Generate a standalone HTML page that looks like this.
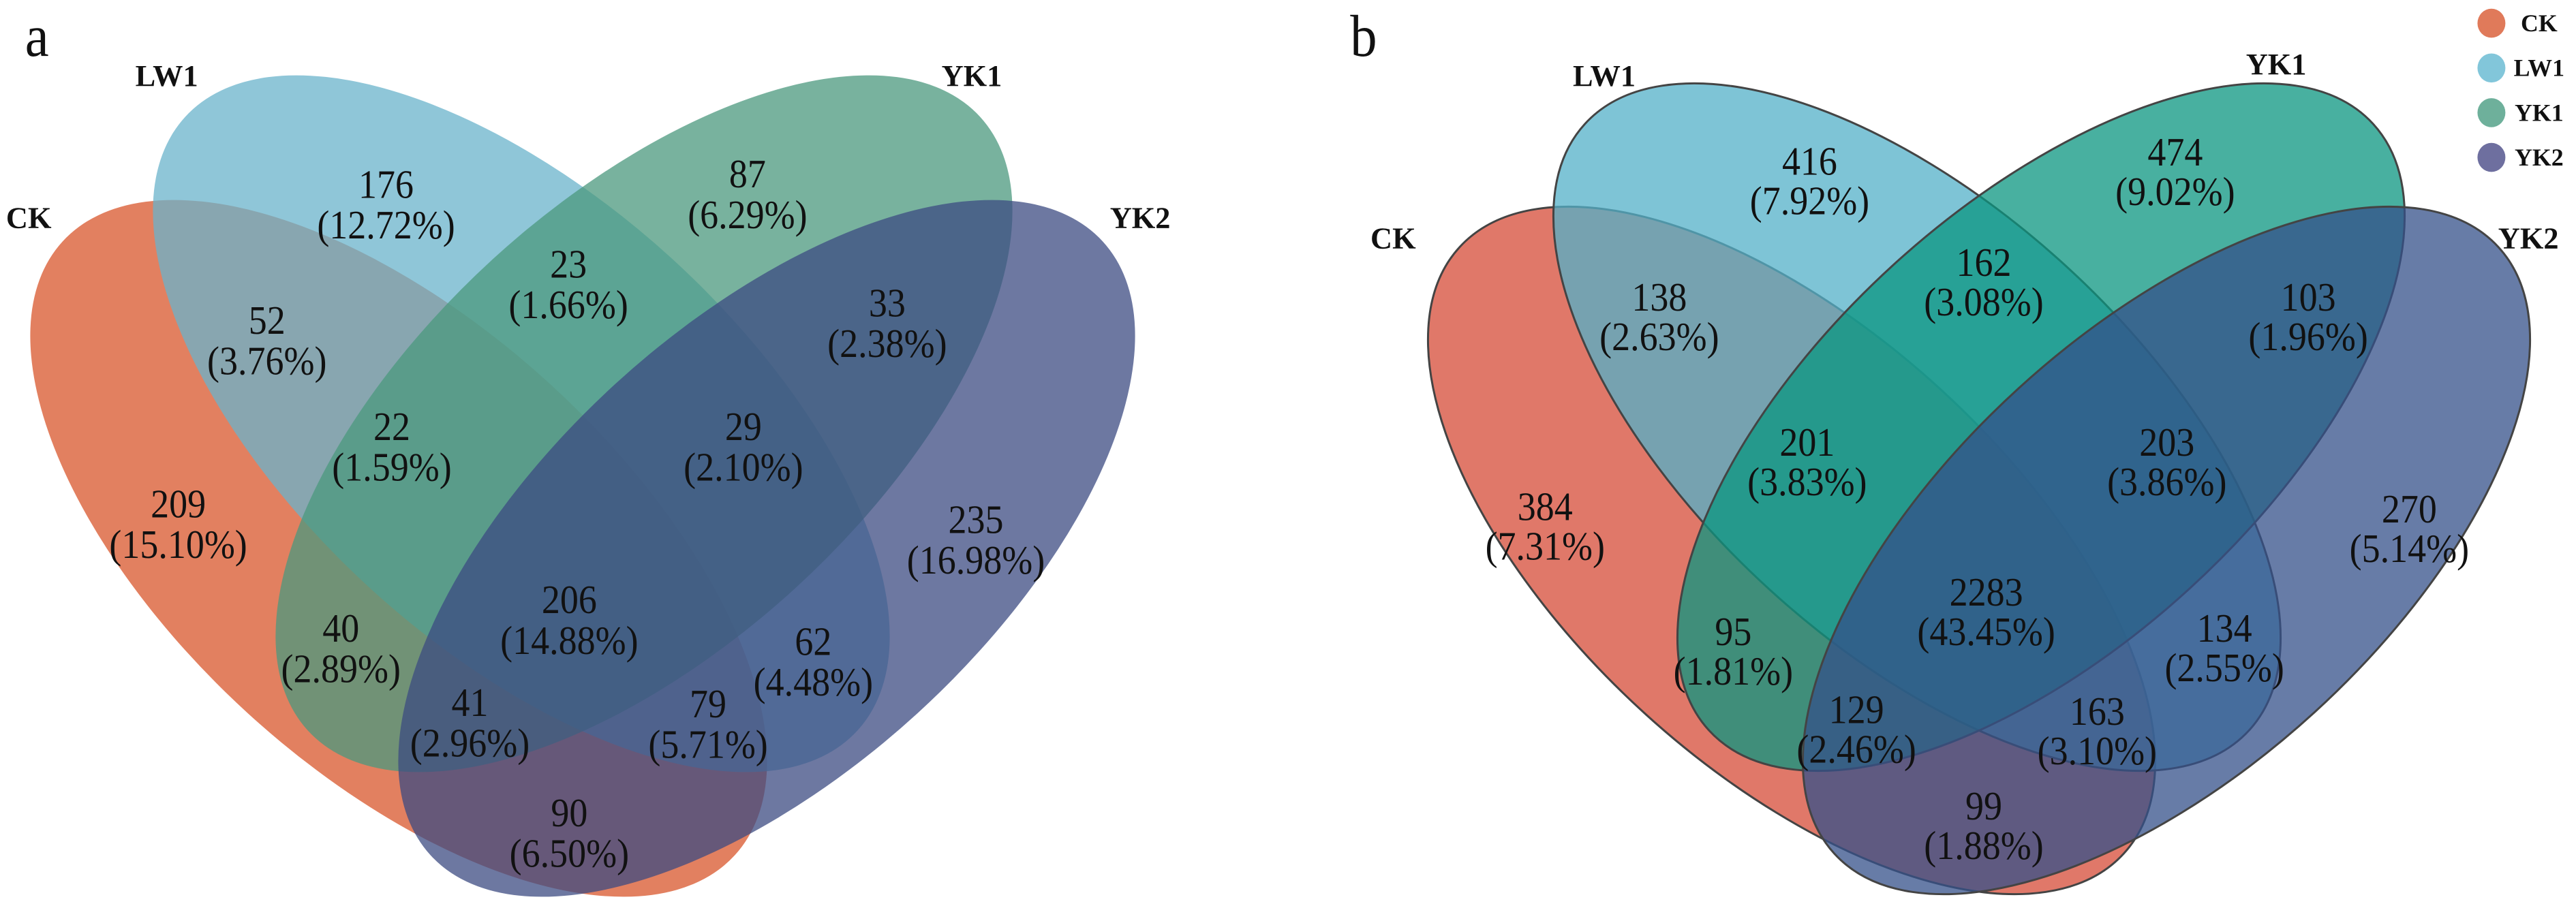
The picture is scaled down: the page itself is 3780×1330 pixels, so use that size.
<!DOCTYPE html>
<html><head><meta charset="utf-8"><style>
html,body{margin:0;padding:0;background:#fff;overflow:hidden;}
svg{display:block;}
text{font-family:"Liberation Serif",serif;fill:#111;}
</style></head><body>
<svg id="svg" width="3780" height="1330" viewBox="0 0 3780 1330" xmlns="http://www.w3.org/2000/svg">
<rect width="3780" height="1330" fill="#fff"/>
<g id="ea"></g>
<g id="pa" transform="scale(1.2054,0.8526)"></g>
<g id="eb" transform="translate(1890,0)"></g>
<g id="pb" transform="translate(1890,0) scale(1.2054,0.8526)"></g>
</svg>
<script>
const NS="http://www.w3.org/2000/svg";
const setNames=["CK","LW1","YK1","YK2"];
// panel a
const aCounts=["176","87","23","52","33","22","29","209","235","206","40","62","41","79","90"];
const aPcts=["12.72%","6.29%","1.66%","3.76%","2.38%","1.59%","2.10%","15.10%","16.98%","14.88%","2.89%","4.48%","2.96%","5.71%","6.50%"];
const aPos=[[470,318],[910,300],[692,455],[325,552],[1080,522],[477,735],[905,735],[217,868],[1188,895],[693,1033],[415,1082],[990,1105],[572,1210],[862,1212],[693,1400]];
// panel b
const bCounts=["416","474","162","138","103","201","203","384","270","2283","95","134","129","163","99"];
const bPcts=["7.92%","9.02%","3.08%","2.63%","1.96%","3.83%","3.86%","7.31%","5.14%","43.45%","1.81%","2.55%","2.46%","3.10%","1.88%"];
const bPos=[[635,278],[1080,262],[847,452],[452,512],[1242,512],[632,762],[1070,762],[313,873],[1365,877],[850,1020],[542,1088],[1140,1082],[692,1222],[985,1225],[847,1388]];

function el(p,tag,attrs){const e=document.createElementNS(NS,tag);for(const k in attrs)e.setAttribute(k,attrs[k]);p.appendChild(e);return e;}
function txt(p,x,y,s,size,bold,name,sx){
  const g=el(p,"g",{transform:`translate(${x},${y}) scale(${sx||0.708},1)`});
  const t=el(g,"text",{x:0,y:0,"text-anchor":"middle","dominant-baseline":"central","font-size":size,"font-weight":bold?"bold":"normal"});
  t.textContent=s;
  
  
  return t;
}
function panel(eg,g,cfg){
  cfg.ell.forEach((e,i)=>{
    const ep=el(eg,"ellipse",{cx:0,cy:0,rx:cfg.a,ry:cfg.b,transform:`translate(${e[0]},${e[1]}) rotate(${e[2]})`,fill:cfg.cols[i],"fill-opacity":0.75,stroke:cfg.stroke||"none","stroke-width":cfg.sw||0});
    
    
  });
  cfg.counts.forEach((c,i)=>{
    const [x,y]=cfg.pos[i];
    txt(g,x,y,c,70,false,'region-count',0.64);
    txt(g,x,y+cfg.off,"("+cfg.pcts[i]+")",70,false,'region-percent',0.64);
  });
  cfg.labels.forEach((l,i)=>txt(g,l[0],l[1],setNames[i],52,true,'set-label-'+setNames[i].toLowerCase()));
  txt(g,cfg.letter[0],cfg.letter[1],cfg.letter[2],102,false,'panel-letter',0.64);
}
panel(document.getElementById("ea"),document.getElementById("pa"),{
  a:668,b:328,
  ell:[[585,805,42.4],[765,622,42.4],[945,622,-42.4],[1125,805,-42.4]],
  cols:["#d8562b","#6ab3cb","#4b987e","#3c4b82"],
  counts:aCounts,pcts:aPcts,pos:aPos,off:70,
  labels:[[35,375],[203,130],[1183,130],[1388,375]],
  letter:[45,62,"a"]
});
panel(document.getElementById("eb"),document.getElementById("pb"),{
  a:660,b:322,
  ell:[[739,808,42.4],[923,627,42.4],[1105,627,-42.4],[1289,808,-42.4]],
  cols:["#d64b37","#53b0c8","#0b9680","#34508a"],
  stroke:"#444",sw:3,
  counts:bCounts,pcts:bPcts,pos:bPos,off:68,
  labels:[[128,410],[385,130],[1203,110],[1510,410]],
  letter:[92,62,"b"]
});
// legend
const legCols=["#e07a5a","#82c6da","#6eb09b","#6e6f9f"];
const pb=document.getElementById("pb");
legCols.forEach((c,i)=>{
  const y=40+i*77;
  const cc=el(pb,"ellipse",{cx:1465,cy:y,rx:17,ry:25,fill:c});
  
  
  txt(pb,1523,y,setNames[i],42,true,'legend-label-'+setNames[i].toLowerCase());
});
</script>
</body></html>
